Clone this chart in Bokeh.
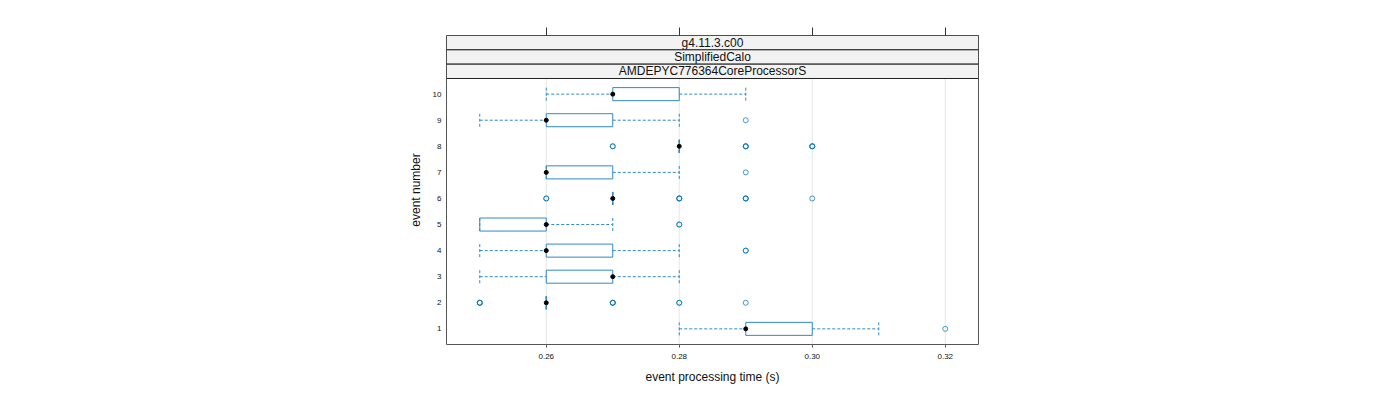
from bokeh.plotting import figure
from bokeh.models import LinearAxis, FixedTicker, Range1d, ColumnDataSource
from bokeh.core.properties import value
from bokeh.embed import file_html
from bokeh.resources import INLINE

# ---- data ----
events = [1, 2, 3, 4, 5, 6, 7, 8, 9, 10]
whisker_low = [0.28, 0.26, 0.25, 0.25, 0.25, 0.27, 0.26, 0.28, 0.25, 0.26]
q1 = [0.29, 0.26, 0.26, 0.26, 0.25, 0.27, 0.26, 0.28, 0.26, 0.27]
median = [0.29, 0.26, 0.27, 0.26, 0.26, 0.27, 0.26, 0.28, 0.26, 0.27]
q3 = [0.30, 0.26, 0.27, 0.27, 0.26, 0.27, 0.27, 0.28, 0.27, 0.28]
whisker_high = [0.31, 0.26, 0.28, 0.28, 0.27, 0.27, 0.28, 0.28, 0.28, 0.29]

outlier_event = [1, 2, 2, 2, 2, 2, 2, 2, 2, 2, 4, 4, 5, 5,
                 6, 6, 6, 6, 6, 6, 6, 6, 6, 7, 8, 8, 8, 8, 8, 8, 8, 8, 9]
outlier_value = [0.32, 0.25, 0.25, 0.25, 0.27, 0.27, 0.27, 0.28, 0.28, 0.29, 0.29, 0.29, 0.28, 0.28,
                 0.26, 0.26, 0.28, 0.28, 0.28, 0.29, 0.29, 0.29, 0.30, 0.29,
                 0.27, 0.27, 0.29, 0.29, 0.29, 0.30, 0.30, 0.30, 0.29]

x_ticks = [0.26, 0.28, 0.30, 0.32]
x_tick_labels = ["0.26", "0.28", "0.30", "0.32"]
strip_labels = ["g4.11.3.c00", "SimplifiedCalo", "AMDEPYC776364CoreProcessorS"]
x_label = "event processing time (s)"
y_label = "event number"

# ---- layout constants ----
FONT = "Liberation Sans"
X0, X1 = 0.245, 0.325
Y0, PANEL_TOP = 0.4, 10.6
PX_PER_UNIT = 266 / (PANEL_TOP - Y0)
STRIP_H = 14.33 / PX_PER_UNIT
Y1 = PANEL_TOP + 3 * STRIP_H
BOX_HALF = 0.25
BLUE = "#2f8ac4"
OUT_BLUE = "#0072b2"
TXT = "#111111"

p = figure(width=1400, height=400, output_backend="svg", toolbar_location=None,
           x_range=Range1d(X0, X1), y_range=Range1d(Y0, Y1),
           x_axis_location=None, y_axis_location=None,
           min_border_left=446, min_border_right=422, min_border_top=35, min_border_bottom=56)
p.xgrid.visible = False
p.ygrid.visible = False
p.outline_line_color = "#555555"
p.outline_line_width = 1
p.background_fill_color = "white"
p.border_fill_color = "white"

# grid lines inside the panel only
p.segment(x0=x_ticks, y0=[Y0] * len(x_ticks), x1=x_ticks, y1=[PANEL_TOP] * len(x_ticks),
          line_color="#e6e6e6", line_width=1)

# strips
for i, lab in enumerate(strip_labels):
    bottom = Y1 - (i + 1) * STRIP_H
    top = Y1 - i * STRIP_H
    p.quad(left=[X0], right=[X1], bottom=[bottom], top=[top],
           fill_color="#f2f2f2", line_color="#222222", line_width=1)
    p.text(x=[(X0 + X1) / 2], y=[(bottom + top) / 2], text=[lab],
           text_font=value(FONT), text_font_size="12px", text_color=TXT,
           text_align="center", text_baseline="middle")

src = ColumnDataSource(dict(
    ev=events, wl=whisker_low, q1=q1, med=median, q3=q3, wh=whisker_high,
    bot=[e - BOX_HALF for e in events], top=[e + BOX_HALF for e in events]))

# whiskers (dashed)
p.segment(x0="wl", y0="ev", x1="q1", y1="ev", source=src, line_color=BLUE, line_dash="3 2", line_width=1)
p.segment(x0="q3", y0="ev", x1="wh", y1="ev", source=src, line_color=BLUE, line_dash="3 2", line_width=1)
# whisker caps
p.segment(x0="wl", y0="bot", x1="wl", y1="top", source=src, line_color=BLUE, line_dash="3 2", line_width=1)
p.segment(x0="wh", y0="bot", x1="wh", y1="top", source=src, line_color=BLUE, line_dash="3 2", line_width=1)
# boxes
p.quad(left="q1", right="q3", bottom="bot", top="top", source=src,
       fill_color=None, line_color=BLUE, line_width=1)
# medians
p.scatter(x="med", y="ev", source=src, marker="circle", size=4,
          fill_color="black", line_color="black", line_width=1)
# outliers
p.scatter(x=outlier_value, y=outlier_event, marker="circle", size=5,
          fill_color=None, line_color=OUT_BLUE, line_alpha=0.7, line_width=1)

# axes
ticker = FixedTicker(ticks=x_ticks)
overrides = {t: l for t, l in zip(x_ticks, x_tick_labels)}

xb = LinearAxis(ticker=ticker, axis_label=x_label)
xb.major_label_overrides = overrides
xb.axis_line_color = None
xb.major_tick_out = 3
xb.major_tick_in = 0
xb.major_tick_line_color = "#555555"
xb.minor_tick_line_color = None
xb.major_label_text_font = FONT
xb.major_label_text_font_size = "8px"
xb.major_label_text_color = TXT
xb.major_label_standoff = 6
xb.axis_label_text_font = FONT
xb.axis_label_text_font_size = "12px"
xb.axis_label_text_font_style = "normal"
xb.axis_label_text_color = TXT
xb.axis_label_standoff = 8
p.add_layout(xb, "below")

xt = LinearAxis(ticker=ticker)
xt.axis_line_color = None
xt.major_tick_out = 8
xt.major_tick_in = 0
xt.major_tick_line_color = "#333333"
xt.minor_tick_line_color = None
xt.major_label_text_color = None
xt.major_label_text_font_size = "1px"
xt.major_label_standoff = 0
p.add_layout(xt, "above")

yl = LinearAxis(ticker=FixedTicker(ticks=events), axis_label=y_label)
yl.axis_line_color = None
yl.major_tick_line_color = None
yl.minor_tick_line_color = None
yl.major_tick_out = 0
yl.major_tick_in = 0
yl.major_label_text_font = FONT
yl.major_label_text_font_size = "8px"
yl.major_label_text_color = TXT
yl.major_label_standoff = 5
yl.axis_label_text_font = FONT
yl.axis_label_text_font_size = "12px"
yl.axis_label_text_font_style = "normal"
yl.axis_label_text_color = TXT
yl.axis_label_standoff = 7
p.add_layout(yl, "left")

open("out.html", "w").write(file_html(p, INLINE))
